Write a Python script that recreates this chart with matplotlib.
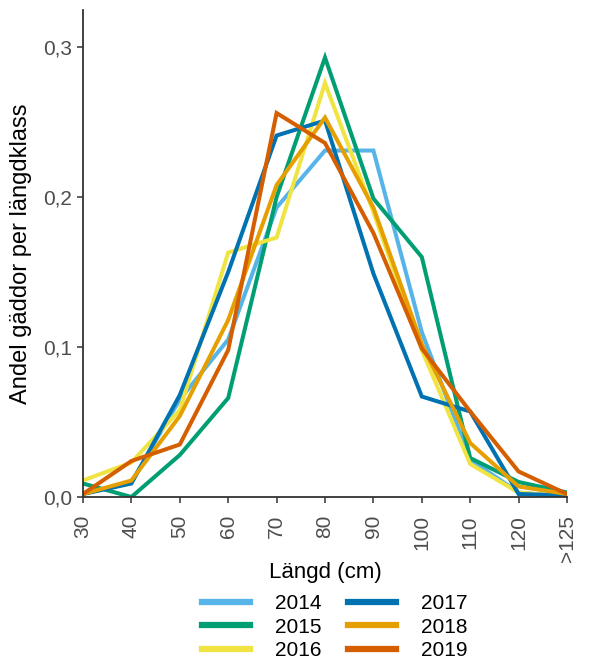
import matplotlib
matplotlib.use("Agg")
import matplotlib.pyplot as plt

plt.rcParams['font.family'] = ['Liberation Sans', 'DejaVu Sans']

length_classes = ["30", "40", "50", "60", "70", "80", "90", "100", "110", "120", ">125"]
years = ["2014", "2015", "2016", "2017", "2018", "2019"]
colors = ["#56B4E9", "#009E73", "#F0E442", "#0072B2", "#E69F00", "#D55E00"]

share_2014 = [0.002, 0.010, 0.065, 0.105, 0.193, 0.231, 0.231, 0.110, 0.025, 0.003, 0.000]
share_2015 = [0.009, 0.000, 0.028, 0.066, 0.200, 0.293, 0.199, 0.160, 0.026, 0.010, 0.003]
share_2016 = [0.011, 0.023, 0.058, 0.163, 0.173, 0.276, 0.190, 0.098, 0.022, 0.003, 0.000]
share_2017 = [0.002, 0.009, 0.068, 0.150, 0.241, 0.251, 0.149, 0.067, 0.057, 0.002, 0.001]
share_2018 = [0.002, 0.011, 0.054, 0.118, 0.208, 0.253, 0.193, 0.102, 0.036, 0.007, 0.002]
share_2019 = [0.002, 0.024, 0.035, 0.098, 0.256, 0.236, 0.176, 0.099, 0.057, 0.017, 0.002]
series = [share_2014, share_2015, share_2016, share_2017, share_2018, share_2019]

fig = plt.figure(figsize=(5.89, 6.60), dpi=100)
ax = fig.add_axes([83 / 589, 1 - 497 / 660, (567 - 83) / 589, (497 - 10) / 660])

x = list(range(len(length_classes)))
for year, vals, col in zip(years, series, colors):
    ax.plot(x, vals, color=col, lw=2.9, label=year, solid_joinstyle='miter')

ax.set_xlim(0, len(length_classes) - 1)
ax.set_ylim(0, 0.3247)
ax.set_xticks(x)
ax.set_xticklabels(length_classes, rotation=90, va='top', ha='center')
ax.set_yticks([0, 0.1, 0.2, 0.3])
ax.set_yticklabels(["0,0", "0,1", "0,2", "0,3"])
ax.tick_params(axis='both', colors='#333333', labelcolor='#4D4D4D', labelsize=15,
               length=4, width=1.1)
ax.tick_params(axis='x', pad=9)
ax.tick_params(axis='y', pad=4)

for side in ['top', 'right']:
    ax.spines[side].set_visible(False)
for side in ['left', 'bottom']:
    ax.spines[side].set_color('#333333')
    ax.spines[side].set_linewidth(1.3)

ax.set_xlabel("Längd (cm)", fontsize=16, color='black', labelpad=0)
ax.set_ylabel("Andel gäddor per längdklass", fontsize=17, color='black', labelpad=8)

handles, labels = ax.get_legend_handles_labels()
leg = fig.legend(handles, labels, loc='upper center', bbox_to_anchor=(0.568, 1 - 594 / 660),
                 ncol=2, frameon=False, fontsize=15, handlelength=2.3, handletextpad=1.2,
                 columnspacing=1.3, labelspacing=0.22, borderpad=0, borderaxespad=0)
for line in leg.get_lines():
    line.set_linewidth(4.5)

fig.savefig("out.png", dpi=100)
